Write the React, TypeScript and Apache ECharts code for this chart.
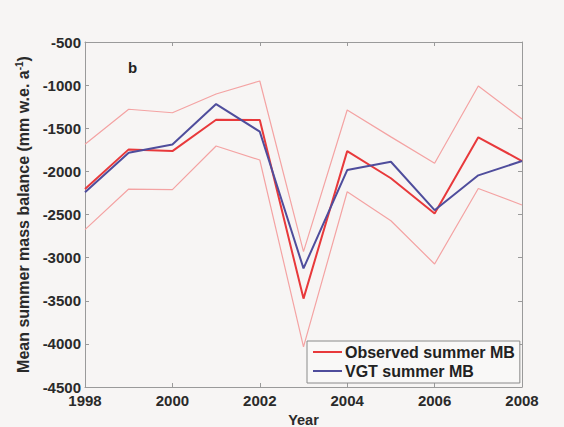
import React, { useEffect, useRef } from "react";
import * as echarts from "echarts";

const years = [1998, 1999, 2000, 2001, 2002, 2003, 2004, 2005, 2006, 2007, 2008];
const observed = [-2205, -1745, -1765, -1402, -1405, -3475, -1765, -2080, -2488, -1605, -1880];
const vgt = [-2243, -1783, -1688, -1220, -1540, -3125, -1985, -1888, -2450, -2046, -1880];
const upper = [-1685, -1280, -1320, -1103, -952, -2930, -1288, -1600, -1906, -1010, -1393];
const lower = [-2675, -2205, -2212, -1706, -1868, -4035, -2236, -2572, -3074, -2198, -2390];

const pair = (v: number[]) => years.map((y, i) => [y, v[i]]);

export default function App() {
  const ref = useRef<HTMLDivElement>(null);
  useEffect(() => {
    const chart = echarts.init(ref.current!, null, { renderer: "svg" });
    const font = "'Liberation Sans', Arial, sans-serif";
    const axisColor = "#9a9a9a";
    const labelStyle = { color: "#2a2a2a", fontWeight: "bold" as const, fontSize: 15, fontFamily: font };
    chart.setOption({
      animation: false,
      backgroundColor: "#f7f5f4",
      grid: { left: 85, top: 42, right: 42, bottom: 40, containLabel: false, outerBoundsMode: "none" },
      legend: {
        data: [
          { name: "Observed summer MB", icon: "rect" },
          { name: "VGT summer MB", icon: "rect" },
        ],
        orient: "vertical",
        left: 307,
        top: 341,
        itemWidth: 29,
        itemHeight: 2,
        itemGap: 3,
        padding: [3, 5, 4, 6],
        borderColor: "#8a8a8a",
        borderWidth: 1,
        backgroundColor: "#f9f8f7",
        textStyle: { fontFamily: font, fontWeight: "bold", fontSize: 16, color: "#222", padding: [0, 0, 0, -2] },
      },
      xAxis: [
        {
          type: "value",
          min: 1998,
          max: 2008,
          interval: 2,
          name: "Year",
          nameLocation: "middle",
          nameGap: 21,
          nameTextStyle: { ...labelStyle, fontSize: 14.5 },
          axisLine: { lineStyle: { color: axisColor } },
          axisTick: { inside: true, length: 4, lineStyle: { color: axisColor } },
          axisLabel: { ...labelStyle, margin: 6, formatter: (v: number) => String(v) },
          splitLine: { show: false },
        },
        {
          type: "value",
          position: "top",
          min: 1998,
          max: 2008,
          interval: 2,
          axisLine: { show: true, lineStyle: { color: axisColor } },
          axisTick: { inside: true, length: 4, lineStyle: { color: axisColor } },
          axisLabel: { show: false },
          splitLine: { show: false },
        },
      ],
      yAxis: [
        {
          type: "value",
          min: -4500,
          max: -500,
          interval: 500,
          name: "Mean summer mass balance (mm w.e. a{sup|-1})",
          nameLocation: "middle",
          nameGap: 50,
          nameRotate: 90,
          nameTextStyle: {
            ...labelStyle,
            fontSize: 16,
            rich: {
              sup: { fontSize: 10, fontWeight: "bold", fontFamily: font, color: "#2a2a2a", verticalAlign: "top", padding: [0, 0, 8, 0] },
            },
          },
          axisLine: { show: true, lineStyle: { color: axisColor } },
          axisTick: { inside: true, length: 4, lineStyle: { color: axisColor } },
          axisLabel: { ...labelStyle, margin: 4, formatter: (v: number) => String(v) },
          splitLine: { show: false },
        },
        {
          type: "value",
          position: "right",
          min: -4500,
          max: -500,
          interval: 500,
          axisLine: { show: true, lineStyle: { color: axisColor } },
          axisTick: { inside: true, length: 4, lineStyle: { color: axisColor } },
          axisLabel: { show: false },
          splitLine: { show: false },
        },
      ],
      graphic: [
        {
          type: "text",
          left: 128,
          top: 60,
          style: { text: "b", font: `bold 15px ${font}`, fill: "#222" },
        },
      ],
      series: [
        {
          name: "upper",
          type: "line",
          data: pair(upper),
          symbol: "none",
          lineStyle: { color: "#f4a3a3", width: 1.2 },
          silent: true,
        },
        {
          name: "lower",
          type: "line",
          data: pair(lower),
          symbol: "none",
          lineStyle: { color: "#f4a3a3", width: 1.2 },
          silent: true,
        },
        {
          name: "Observed summer MB",
          type: "line",
          data: pair(observed),
          symbol: "none",
          itemStyle: { color: "#e8393b" },
          lineStyle: { color: "#e8393b", width: 2 },
        },
        {
          name: "VGT summer MB",
          type: "line",
          data: pair(vgt),
          symbol: "none",
          itemStyle: { color: "#4f4d9c" },
          lineStyle: { color: "#4f4d9c", width: 2 },
        },
      ],
    });
    return () => chart.dispose();
  }, []);
  return (
    <div
      ref={ref}
      style={{ position: "fixed", left: 0, top: 0, width: 564, height: 427 }}
    />
  );
}
